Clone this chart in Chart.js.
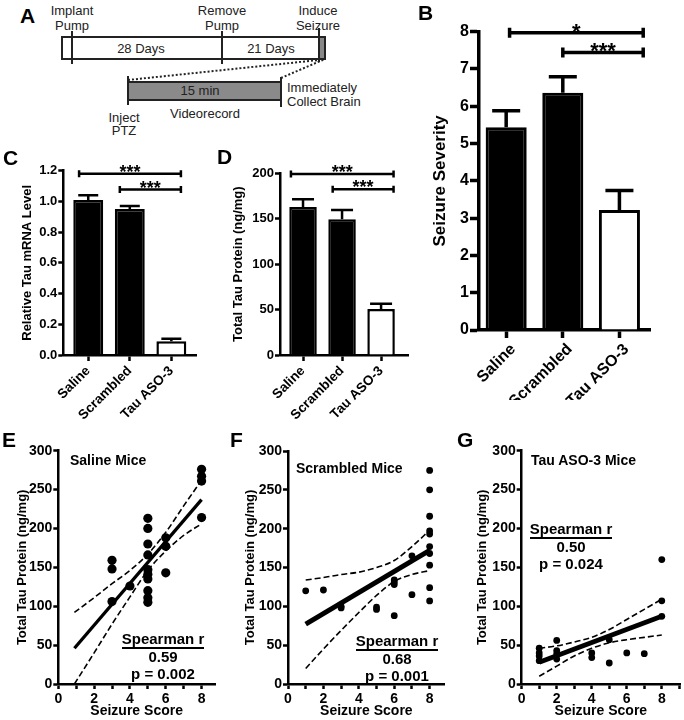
<!DOCTYPE html>
<html>
<head>
<meta charset="utf-8">
<script src="https://cdn.jsdelivr.net/npm/chart.js@4.4.1/dist/chart.umd.min.js"></script>
<style>
  html, body { margin: 0; padding: 0; background: #fff; }
  body { width: 684px; height: 720px; position: relative; overflow: hidden;
         font-family: "Liberation Sans", Arial, sans-serif; color: #000; }
  canvas, svg { position: absolute; }
  .panel { position: absolute; font-weight: bold; font-size: 21px; line-height: 1; }
  .note { position: absolute; font-weight: bold; font-size: 14px; line-height: 1; white-space: nowrap; }
  .stat { position: absolute; width: 110px; text-align: center; font-weight: bold;
          font-size: 15px; line-height: 17.5px; white-space: nowrap; }
  .stat span { border-bottom: 2px solid #000; }
</style>
</head>
<body>

<!-- panel A: timeline schematic -->
<svg width="420" height="140" style="left:0;top:0" font-family="Liberation Sans, Arial, sans-serif" font-size="13" fill="#222">
  <rect x="62" y="37" width="263" height="22" fill="#fff" stroke="#222" stroke-width="2"/>
  <rect x="319" y="38" width="5" height="20" fill="#888" stroke="none"/>
  <line x1="72" y1="31" x2="72" y2="64" stroke="#222" stroke-width="2"/>
  <line x1="222" y1="31" x2="222" y2="64" stroke="#222" stroke-width="2"/>
  <line x1="319" y1="28" x2="319" y2="62" stroke="#222" stroke-width="2"/>
  <line x1="128" y1="80" x2="319" y2="60" stroke="#222" stroke-width="2" stroke-dasharray="2 2"/>
  <line x1="281" y1="78" x2="325" y2="59" stroke="#222" stroke-width="2" stroke-dasharray="2 2"/>
  <rect x="128" y="82" width="153" height="18" fill="#8a8a8a" stroke="#222" stroke-width="2"/>
  <line x1="128" y1="76" x2="128" y2="105" stroke="#222" stroke-width="2"/>
  <line x1="281" y1="77" x2="281" y2="107" stroke="#222" stroke-width="2"/>
  <g text-anchor="middle">
    <text x="72" y="15">Implant</text><text x="72" y="29.5">Pump</text>
    <text x="222" y="15">Remove</text><text x="222" y="29.5">Pump</text>
    <text x="318" y="15">Induce</text><text x="318" y="29.5">Seizure</text>
    <text x="141" y="52.5">28 Days</text>
    <text x="271" y="52.5">21 Days</text>
    <text x="200" y="95">15 min</text>
    <text x="124" y="121.5">Inject</text><text x="124" y="135">PTZ</text>
    <text x="205" y="117.5">Videorecord</text>
  </g>
  <text x="287" y="91.5">Immediately</text>
  <text x="287" y="106">Collect Brain</text>
</svg>

<canvas id="chartC" width="215" height="290" style="left:0;top:140px"></canvas>
<canvas id="chartD" width="215" height="290" style="left:215px;top:140px"></canvas>
<canvas id="chartB" width="259" height="400" style="left:425px;top:0"></canvas>
<canvas id="chartE" width="228" height="320" style="left:0;top:400px"></canvas>
<canvas id="chartF" width="228" height="320" style="left:228px;top:400px"></canvas>
<canvas id="chartG" width="228" height="320" style="left:456px;top:400px"></canvas>

<div class="panel" style="left:20px;top:5px">A</div>
<div class="panel" style="left:418px;top:2px">B</div>
<div class="panel" style="left:3px;top:147px">C</div>
<div class="panel" style="left:217px;top:146px">D</div>
<div class="panel" style="left:2px;top:429px">E</div>
<div class="panel" style="left:230px;top:429px">F</div>
<div class="panel" style="left:457px;top:429px">G</div>

<div class="note" style="left:70px;top:453px">Saline Mice</div>
<div class="note" style="left:296px;top:461px">Scrambled Mice</div>
<div class="note" style="left:531px;top:453px">Tau ASO-3 Mice</div>

<div class="stat" style="left:108px;top:630px"><span>Spearman r</span><br>0.59<br>p = 0.002</div>
<div class="stat" style="left:342px;top:632px"><span>Spearman r</span><br>0.68<br>p = 0.001</div>
<div class="stat" style="left:516px;top:520px"><span>Spearman r</span><br>0.50<br>p = 0.024</div>

<script>
// bar panels (B, C, D)
const groups = ['Saline', 'Scrambled', 'Tau ASO-3'];
const barColors = ['#000', '#000', '#fff'];
const severity = [5.44, 6.36, 3.22];
const severitySem = [0.44, 0.43, 0.52];
const mrna = [1.01, 0.95, 0.09];
const mrnaSem = [0.03, 0.02, 0.015];
const protein = [163, 149.5, 50.5];
const proteinSem = [8.5, 10, 6];

// E: saline mice
const salX = [3, 3, 3, 4, 5, 5, 5, 5, 5, 5, 5, 5, 5, 5, 6, 6, 6, 8, 8, 8, 8];
const salY = [159, 148, 106, 126, 213, 200, 180, 166, 147, 141, 135, 120, 111, 105, 188, 177, 143, 276, 267, 261, 214];
const salFitX = [0.9, 8];
const salFitY = [46, 237];
const salBandX = [0.9, 2, 3, 4, 5, 6, 7, 8];
const salUpper = [92, 111, 129, 146, 167, 195, 229, 262];
const salLower = [0, 40, 77, 112, 146, 171, 191, 206];

// F: scrambled mice
const scrX = [1, 2, 3, 3, 5, 5, 6, 6, 6, 6, 7, 7, 8, 8, 8, 8, 8, 8, 8, 8, 8, 8];
const scrY = [120, 121, 100, 98, 99, 96, 134, 131, 128, 88, 165, 115, 275, 250, 216, 197, 193, 177, 168, 153, 124, 107];
const scrFitX = [1, 8];
const scrFitY = [77, 172];
const scrBandX = [1, 2, 3, 4, 5, 6, 7, 8];
const scrUpper = [134, 137, 141, 144, 150, 159, 177, 198];
const scrLower = [20, 45, 69, 92, 114, 132, 141, 146];

// G: tau ASO-3 mice
const asoX = [1, 1, 1, 1, 2, 2, 2, 2, 4, 4, 5, 5, 6, 7, 8, 8, 8];
const asoY = [46, 40, 36, 30, 56, 43, 39, 32, 40, 34, 57, 27, 40, 39, 160, 107, 87];
const asoFitX = [1, 8];
const asoFitY = [28, 87];
const asoBandX = [1, 2, 3, 4, 5, 6, 7, 8];
const asoUpper = [46, 49, 54, 60, 70, 83, 96, 109];
const asoLower = [10, 23, 36, 46, 53, 57, 60, 63];

Chart.defaults.font.family = '"Liberation Sans", Arial, sans-serif';
Chart.defaults.font.weight = 'bold';
Chart.defaults.color = '#000';

// error bars + significance brackets
const barExtras = {
    id: 'barExtras',
    afterDatasetsDraw(chart, args, opts) {
        const ctx = chart.ctx;
        const ys = chart.scales.y, xs = chart.scales.x;
        const ds = chart.data.datasets[0];
        const meta = chart.getDatasetMeta(0);
        ctx.save();
        ctx.strokeStyle = '#000';
        ctx.fillStyle = '#000';
        ctx.lineWidth = opts.errWidth;
        meta.data.forEach((bar, i) => {
            const top = ys.getPixelForValue(ds.data[i].y + opts.sem[i]);
            ctx.beginPath();
            ctx.moveTo(bar.x, bar.y);
            ctx.lineTo(bar.x, top);
            ctx.moveTo(bar.x - opts.cap / 2, top);
            ctx.lineTo(bar.x + opts.cap / 2, top);
            ctx.stroke();
        });
        ctx.lineWidth = opts.bracketWidth;
        ctx.font = 'bold ' + opts.starSize + 'px "Liberation Sans", Arial, sans-serif';
        ctx.textAlign = 'center';
        opts.brackets.forEach(b => {
            const x1 = xs.getPixelForValue(b.x1), x2 = xs.getPixelForValue(b.x2);
            const y = ys.getPixelForValue(b.y);
            ctx.beginPath();
            ctx.moveTo(x1, y); ctx.lineTo(x2, y);
            ctx.moveTo(x1, y - opts.endCap); ctx.lineTo(x1, y + opts.endCap);
            ctx.moveTo(x2, y - opts.endCap); ctx.lineTo(x2, y + opts.endCap);
            ctx.stroke();
            ctx.fillText(b.text, (x1 + x2) / 2, y + 0.4 * opts.starSize - 3);
        });
        ctx.restore();
    }
};

function axisLook(w, len) {
    return {
        grid: { drawOnChartArea: false, drawTicks: true, tickLength: len, tickWidth: w, tickColor: '#000', offset: false },
        border: { display: true, width: w, color: '#000' }
    };
}

function barChart(id, vals, sems, o) {
    return new Chart(document.getElementById(id), {
        type: 'bar',
        data: {
            datasets: [{
                data: vals.map((v, i) => ({ x: i, y: v })),
                backgroundColor: barColors,
                borderColor: '#000',
                borderWidth: o.bw,
                barPercentage: o.bp,
                categoryPercentage: 1
            }]
        },
        options: {
            responsive: false,
            animation: false,
            layout: { padding: { top: o.padTop, right: o.padRight, left: 0, bottom: 0 } },
            plugins: {
                legend: { display: false },
                tooltip: { enabled: false },
                barExtras: {
                    sem: sems, cap: o.cap, errWidth: o.aw,
                    brackets: o.brackets, bracketWidth: o.aw, endCap: o.endCap, starSize: o.star
                }
            },
            scales: {
                x: {
                    type: 'linear', min: o.xmin, max: o.xmax, offset: false,
                    afterFit: s => { s.height = o.xh; },
                    afterBuildTicks: s => { s.ticks = [0, 1, 2].map(v => ({ value: v })); },
                    ...axisLook(o.aw, o.xtl),
                    ticks: {
                        autoSkip: false, minRotation: 45, maxRotation: 45, padding: 2,
                        labelOffset: o.lo,
                        font: { size: o.xfs, weight: 'bold' },
                        callback: v => groups[v]
                    }
                },
                y: {
                    min: 0, max: o.ymax,
                    afterFit: s => { s.width = o.yw; },
                    ...axisLook(o.aw, o.ytl),
                    ticks: {
                        stepSize: o.step, padding: 1,
                        font: { size: o.yfs, weight: 'bold' },
                        callback: o.fmt
                    },
                    title: {
                        display: true, text: o.title,
                        font: { size: o.tfs, weight: 'bold' },
                        padding: { top: o.tpad, bottom: 0 }
                    }
                }
            }
        },
        plugins: [barExtras]
    });
}

barChart('chartB', severity, severitySem, {
    padTop: 31.7, padRight: 34, yw: 54, xh: 70, xmin: -0.48, xmax: 2.54,
    ymax: 8, step: 1, fmt: v => v, bw: 3, bp: 0.725, aw: 3.5, xtl: 8, ytl: 9,
    xfs: 16, yfs: 16, lo: 7, title: 'Seizure Severity', tfs: 17, tpad: 5,
    cap: 28, endCap: 5, star: 22,
    brackets: [{ x1: 0.06, x2: 2.42, y: 7.97, text: '*' }, { x1: 1.0, x2: 2.42, y: 7.44, text: '***' }]
});

barChart('chartC', mrna, mrnaSem, {
    padTop: 30.7, padRight: 18.3, yw: 63.3, xh: 75, xmin: -0.6, xmax: 2.61,
    ymax: 1.2, step: 0.2, fmt: v => v.toFixed(1), bw: 2.5, bp: 0.72, aw: 2.5, xtl: 6, ytl: 5,
    xfs: 13.5, yfs: 13, lo: 0, title: 'Relative Tau mRNA Level', tfs: 13, tpad: 20,
    cap: 20, endCap: 3.5, star: 18,
    brackets: [{ x1: -0.22, x2: 2.23, y: 1.18, text: '***' }, { x1: 0.76, x2: 2.23, y: 1.077, text: '***' }]
});

barChart('chartD', protein, proteinSem, {
    padTop: 33.3, padRight: 22, yw: 65, xh: 75, xmin: -0.59, xmax: 2.69,
    ymax: 200, step: 50, fmt: v => v, bw: 2.5, bp: 0.705, aw: 2.5, xtl: 6, ytl: 5,
    xfs: 13.5, yfs: 13, lo: 0, title: 'Total Tau Protein (ng/mg)', tfs: 13, tpad: 16,
    cap: 22, endCap: 3.5, star: 18,
    brackets: [{ x1: -0.31, x2: 2.32, y: 199.2, text: '***' }, { x1: 0.76, x2: 2.32, y: 182.4, text: '***' }]
});

function pts(xs, ys) {
    return xs.map((x, i) => ({ x: x, y: ys[i] }));
}

function scatterChart(id, s, o) {
    const band = {
        showLine: true, borderColor: '#000', borderWidth: 1.6, borderDash: [6, 3],
        pointRadius: 0, tension: 0.4, cubicInterpolationMode: 'monotone', clip: false
    };
    return new Chart(document.getElementById(id), {
        type: 'scatter',
        data: {
            datasets: [
                { data: pts(s.x, s.y), pointRadius: o.r, pointBackgroundColor: '#000', pointBorderWidth: 0, showLine: false },
                { data: pts(s.fitX, s.fitY), showLine: true, borderColor: '#000', borderWidth: o.fw, pointRadius: 0, clip: false },
                { ...band, data: pts(s.bandX, s.upper) },
                { ...band, data: pts(s.bandX, s.lower) }
            ]
        },
        options: {
            responsive: false,
            animation: false,
            layout: { padding: { top: o.padTop, right: o.padRight, left: 0, bottom: 0 } },
            plugins: { legend: { display: false }, tooltip: { enabled: false } },
            scales: {
                x: {
                    type: 'linear', min: 0, max: o.xmax,
                    afterFit: sc => { sc.height = 36; },
                    ...axisLook(2.5, 5),
                    ticks: {
                        stepSize: 1, includeBounds: false, padding: 2, autoSkip: false, maxRotation: 0,
                        font: { size: 14, weight: 'bold' },
                        callback: v => (v % 2 === 0 ? v : '')
                    },
                    title: {
                        display: true, text: 'Seizure Score',
                        font: { size: 14, weight: 'bold' },
                        padding: { top: 0, bottom: 0 }
                    }
                },
                y: {
                    min: 0, max: 300,
                    afterFit: sc => { sc.width = o.yw; },
                    ...axisLook(2.5, 5),
                    ticks: {
                        stepSize: 50, includeBounds: false, padding: 1,
                        font: { size: 14, weight: 'bold' }
                    },
                    title: {
                        display: true, text: 'Total Tau Protein (ng/mg)',
                        font: { size: 13, weight: 'bold' },
                        padding: { top: o.tpad, bottom: 0 }
                    }
                }
            }
        }
    });
}

scatterChart('chartE',
    { x: salX, y: salY, fitX: salFitX, fitY: salFitY, bandX: salBandX, upper: salUpper, lower: salLower },
    { padTop: 50.7, padRight: 13, yw: 58.3, xmax: 8.75, r: 4.6, fw: 3.3, tpad: 15 });

scatterChart('chartF',
    { x: scrX, y: scrY, fitX: scrFitX, fitY: scrFitY, bandX: scrBandX, upper: scrUpper, lower: scrLower },
    { padTop: 51, padRight: 11.3, yw: 60, xmax: 8.85, r: 3.4, fw: 5, tpad: 15 });

scatterChart('chartG',
    { x: asoX, y: asoY, fitX: asoFitX, fitY: asoFitY, bandX: asoBandX, upper: asoUpper, lower: asoLower },
    { padTop: 50.7, padRight: 2.3, yw: 65.7, xmax: 9.04, r: 3.4, fw: 4.8, tpad: 18.7 });
</script>
</body>
</html>
